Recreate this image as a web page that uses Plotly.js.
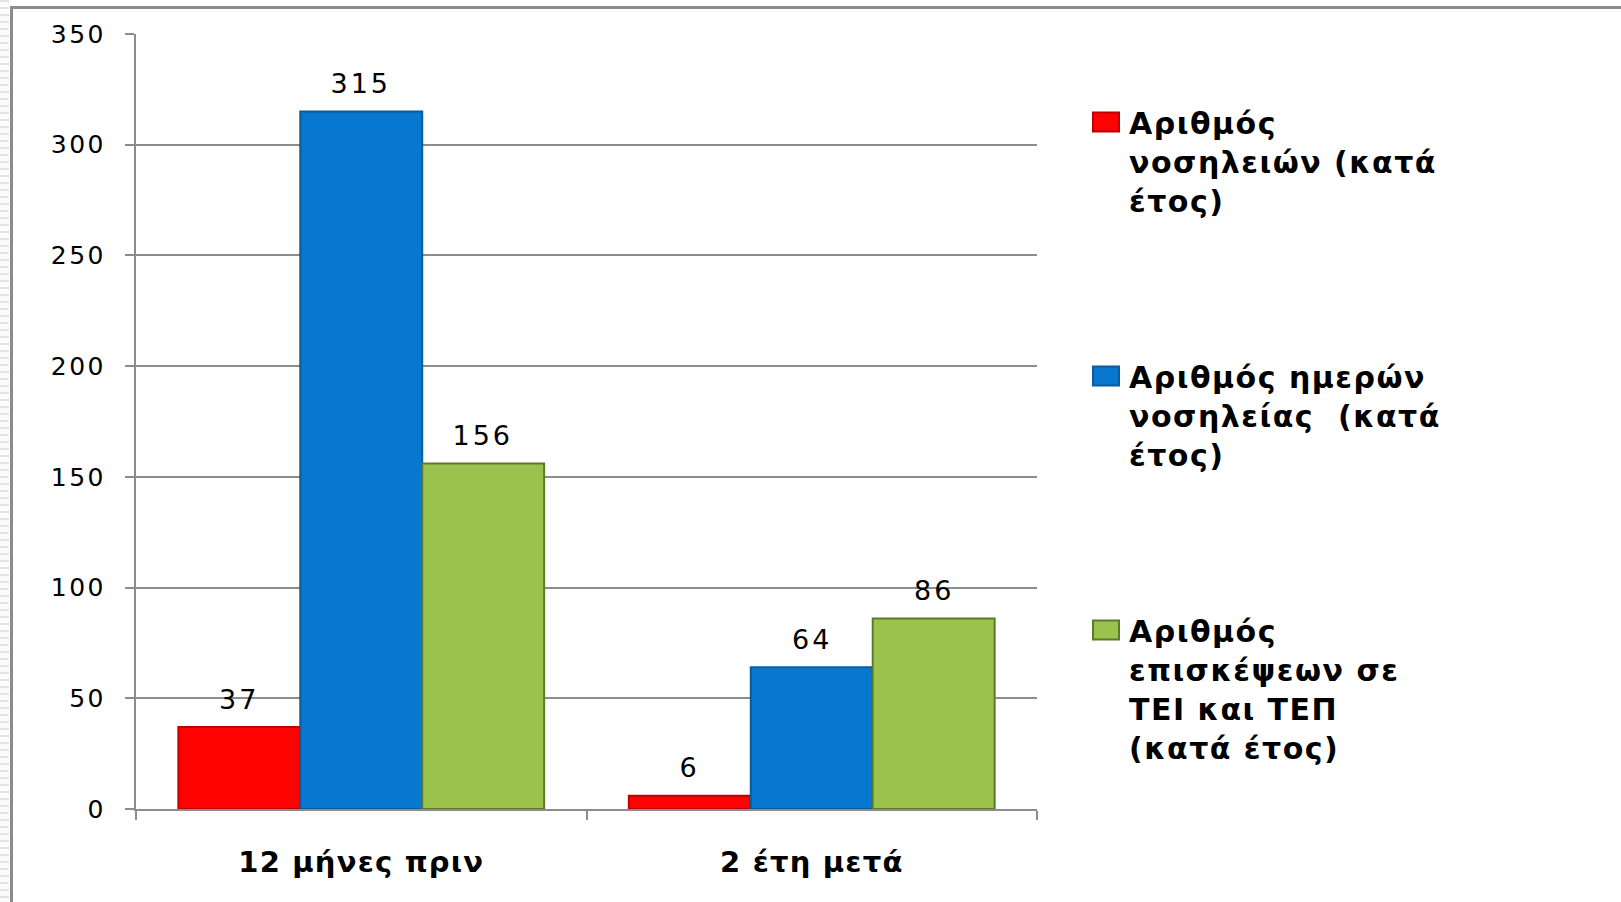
<!DOCTYPE html>
<html>
<head>
<meta charset="utf-8">
<script src="https://cdn.plot.ly/plotly-3.0.1.min.js"></script>
<style>
  html, body { margin: 0; padding: 0; background: #fff; }
  #wrap { position: relative; width: 1621px; height: 902px; overflow: hidden; }
  #chart { position: absolute; left: 0; top: 0; width: 1621px; height: 902px; }
  #stripes { position: absolute; left: 0; top: 0; width: 9px; height: 902px;
    background: repeating-linear-gradient(to bottom, #e4e4e4 0px, #e4e4e4 2px, #fbfbfb 2px, #fbfbfb 7px);
    pointer-events: none; }
  #frame { position: absolute; left: 10px; top: 6px; right: 0; bottom: 0;
    border-left: 3px solid #8c8c8c; border-top: 3px solid #8c8c8c; pointer-events: none; }
  #chart .ytick text { letter-spacing: 2.5px; }
  #chart .xtick text { letter-spacing: 1.2px; }
  #chart .annotation text { letter-spacing: 3px; }
  #chart .legendtext { letter-spacing: 1.5px; }
</style>
</head>
<body>
<div id="wrap">
  <div id="chart"></div>
  <div id="stripes"></div>
  <div id="frame"></div>
</div>
<script>
const categories = ["12 μήνες πριν", "2 έτη μετά"];
const seriesNames = [
  "Αριθμός<br>νοσηλειών (κατά<br>έτος)",
  "Αριθμός ημερών<br>νοσηλείας  (κατά<br>έτος)",
  "Αριθμός<br>επισκέψεων σε<br>ΤΕΙ και ΤΕΠ<br>(κατά έτος)"
];
const admissions = [37, 6];
const hospitalDays = [315, 64];
const erVisits = [156, 86];
const yTicks = [0, 50, 100, 150, 200, 250, 300, 350];

const fills = ["#fe0202", "#0777cf", "#9bc24d"];
const edges = ["#c00000", "#0b5c9a", "#5b7a2b"];
const values = [admissions, hospitalDays, erVisits];
const BARGAP = 0.188;
const nSeries = values.length;
const barW = (1 - BARGAP) / nSeries;

const traces = values.map((v, i) => ({
  type: "bar",
  x: categories,
  y: v,
  name: seriesNames[i],
  legendgroup: "g" + i,
  marker: { color: fills[i], line: { color: edges[i], width: 2 } },
  hoverinfo: "x+y"
}));

// value labels above the bars, placed at each bar's centre on the category axis
const annotations = [];
values.forEach((v, k) => {
  v.forEach((val, i) => {
    annotations.push({
      xref: "x", yref: "y",
      x: i + (k - (nSeries - 1) / 2) * barW,
      y: val,
      text: String(val),
      showarrow: false,
      xanchor: "center", yanchor: "middle",
      yshift: 28,
      font: { family: "DejaVu Sans", size: 27, color: "#000" }
    });
  });
});

const layout = {
  width: 1621,
  height: 902,
  margin: { l: 136, r: 584, t: 34, b: 93 },
  paper_bgcolor: "#ffffff",
  plot_bgcolor: "#ffffff",
  barmode: "group",
  bargap: BARGAP,
  bargroupgap: 0,
  font: { family: "DejaVu Sans", color: "#000" },
  annotations: annotations,
  xaxis: {
    type: "category",
    showline: true, linecolor: "#8c8c8c", linewidth: 2,
    ticks: "outside", tickson: "boundaries", ticklen: 9, tickwidth: 2, tickcolor: "#8c8c8c",
    tickfont: { family: "DejaVu Sans", size: 29, weight: "bold", color: "#000" },
    ticklabelstandoff: 26,
    showgrid: false, zeroline: false, fixedrange: true
  },
  yaxis: {
    range: [0, 350],
    tickvals: yTicks,
    ticktext: yTicks.map(String),
    showline: true, linecolor: "#8c8c8c", linewidth: 2,
    ticks: "outside", ticklen: 9, tickwidth: 2, tickcolor: "#8c8c8c",
    tickfont: { family: "DejaVu Sans", size: 25, color: "#000" },
    ticklabelstandoff: 14,
    showgrid: true, gridcolor: "#8c8c8c", gridwidth: 2,
    zeroline: false, fixedrange: true
  },
  showlegend: true,
  legend: {
    xref: "container", yref: "container",
    x: 1089 / 1621, xanchor: "left",
    y: 1 - 96 / 902, yanchor: "top",
    valign: "top",
    traceorder: "grouped",
    tracegroupgap: 134,
    maxheight: 880,
    font: { family: "DejaVu Sans", size: 30, weight: "bold", color: "#000" },
    bgcolor: "rgba(0,0,0,0)",
    borderwidth: 0,
    itemwidth: 30
  }
};

Plotly.newPlot("chart", traces, layout, { displayModeBar: false, staticPlot: true }).then(gd => {
  // widen the legend swatches to the flat rectangles of the original
  gd.querySelectorAll(".legendpoints path").forEach(p => {
    p.setAttribute("d", "M10,9.5H-16V-9.5H10Z");
  });
  // letter-spaced legend text is wider than Plotly measured: do not clip it
  gd.querySelectorAll(".legend .scrollbox, .legend [clip-path]").forEach(el => {
    el.removeAttribute("clip-path");
  });
});
</script>
</body>
</html>
